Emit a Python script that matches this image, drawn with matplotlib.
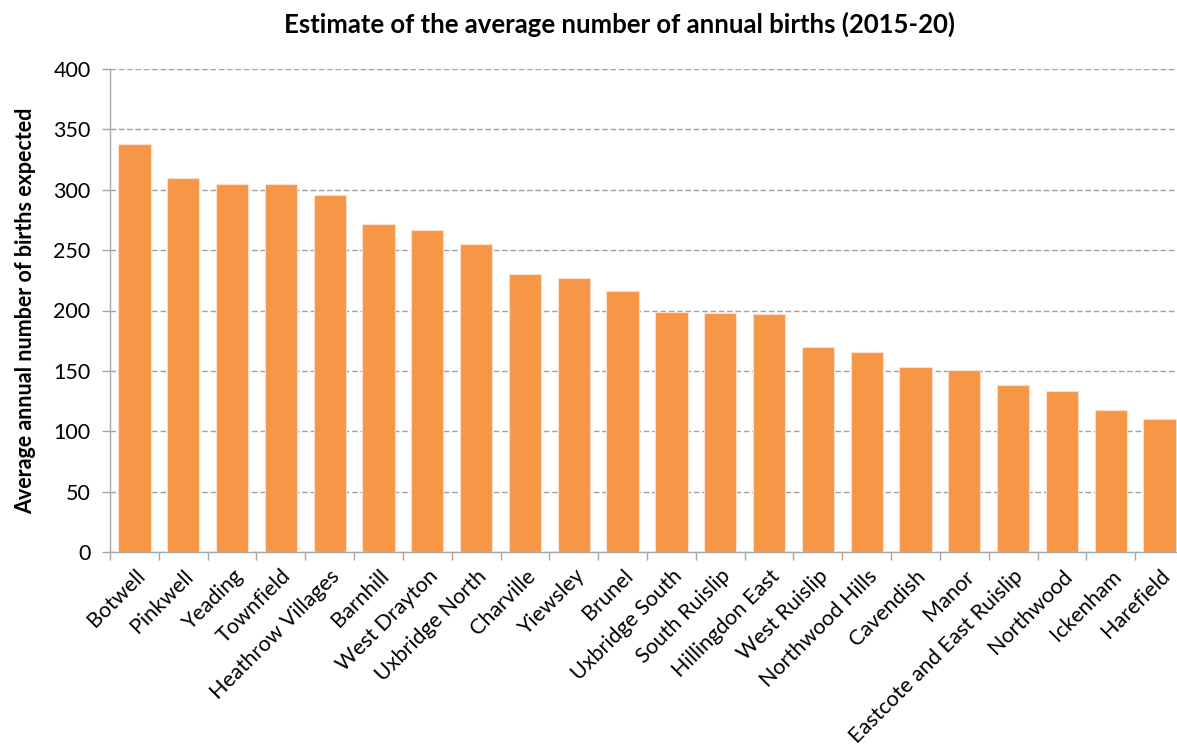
import matplotlib
matplotlib.use("Agg")
import matplotlib.pyplot as plt
import numpy as np

# average annual births expected per ward, 2015-20
wards = ["Botwell", "Pinkwell", "Yeading", "Townfield", "Heathrow Villages",
         "Barnhill", "West Drayton", "Uxbridge North", "Charville", "Yiewsley",
         "Brunel", "Uxbridge South", "South Ruislip", "Hillingdon East",
         "West Ruislip", "Northwood Hills", "Cavendish", "Manor",
         "Eastcote and East Ruislip", "Northwood", "Ickenham", "Harefield"]
births = [338, 310, 305, 305, 296, 272, 267, 255, 230, 227, 216,
          199, 198, 197, 170, 166, 153, 151, 138, 133, 118, 110]
yticks = [0, 50, 100, 150, 200, 250, 300, 350, 400]

plt.rcParams['font.family'] = ['Lato', 'DejaVu Sans']

fig = plt.figure(figsize=(11.77, 7.47), dpi=100)
ax = fig.add_axes([110 / 1177, 1 - 552 / 747, 1074 / 1177, 483 / 747])

x = np.arange(len(wards))
ax.bar(x, births, width=0.66, color="#F79646", edgecolor="#FCE0CB", linewidth=0.8, zorder=3)

ax.set_xlim(-0.5, len(wards) - 0.5)
ax.set_ylim(0, 400)
ax.set_yticks(yticks)
ax.set_yticklabels([str(v) for v in yticks], fontsize=15.5)
ax.yaxis.grid(True, color="#A0A0A0", linestyle=(0, (4, 2)), linewidth=1.0, zorder=0)

# category labels at the bar centres, tick marks at the boundaries
ax.set_xticks(x)
ax.set_xticklabels(wards, rotation=45, ha="right", rotation_mode="anchor", fontsize=15.5)
ax.set_xticks(np.arange(len(wards) + 1) - 0.5, minor=True)
ax.tick_params(axis="x", which="major", length=0, pad=10)
ax.tick_params(axis="x", which="minor", length=6, color="#A6A6A6", width=1)
ax.tick_params(axis="y", length=6, color="#A6A6A6", width=1, pad=8)

for side in ["top", "right"]:
    ax.spines[side].set_visible(False)
for side in ["left", "bottom"]:
    ax.spines[side].set_color("#A6A6A6")
    ax.spines[side].set_linewidth(1)

ax.set_ylabel("Average annual number of births expected", fontsize=15.5, fontweight="bold", labelpad=12)
fig.text(619 / 1177, 1 - 24 / 747, "Estimate of the average number of annual births (2015-20)",
         ha="center", va="center", fontsize=18.5, fontweight="bold")

fig.savefig("out.png", dpi=100)
